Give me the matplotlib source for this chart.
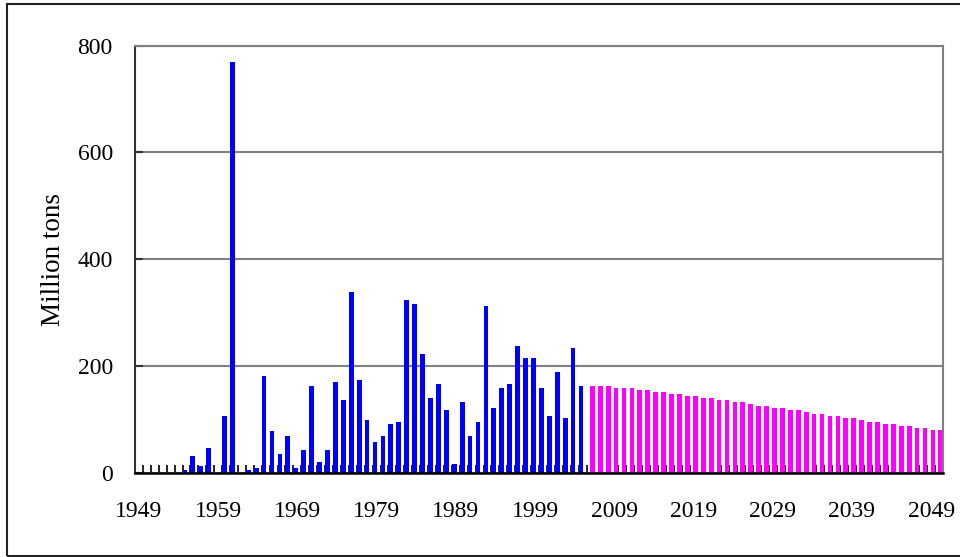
"""Production bars, 1949-2050: observed (blue) and projected (magenta)."""
import matplotlib.pyplot as plt
from matplotlib.patches import Rectangle
import numpy as np

plt.rcParams["font.family"] = ["Liberation Serif", "DejaVu Serif"]

ANOS = list(range(1949, 2051))

# observed, 1949-2005 (million tons)
OBSERVADO = [
    0, 0, 0, 0, 0, 0, 6, 32, 14, 47,
    0, 107, 770, 0, 6, 10, 182, 80, 36, 70,
    10, 44, 163, 21, 44, 171, 137, 339, 175, 100,
    59, 70, 92, 96, 324, 317, 223, 141, 167, 118,
    17, 133, 70, 96, 313, 122, 160, 167, 238, 216,
    216, 160, 107, 190, 103, 234, 163,
]

# projection, 2006-2050
PROJECAO = [
    163, 163, 163, 160, 160, 160, 156, 156, 152, 152,
    148, 148, 145, 145, 141, 141, 137, 137, 133, 133,
    130, 126, 126, 122, 122, 118, 118, 115, 111, 111,
    107, 107, 103, 103, 100, 96, 96, 92, 92, 88,
    88, 85, 85, 81, 81,
]

Y_TICKS = [0, 200, 400, 600, 800]

n_obs = len(OBSERVADO)
n_cat = len(ANOS)
x_obs = np.arange(n_obs)
x_proj = np.arange(n_obs, n_cat)

fig = plt.figure(figsize=(9.6, 5.57), dpi=100)
ax = fig.add_axes([0.1406, 0.1503, 0.9823 - 0.1406, 0.9183 - 0.1503])

ax.bar(x_obs + 0.30, OBSERVADO, width=0.6, color="#0000ff", zorder=2)
ax.bar(x_proj + 0.73, PROJECAO, width=0.6, color="#ff00ff", zorder=2)

ax.set_xlim(0, n_cat)
ax.set_ylim(0, 800)

# labels every ten years, centred in the category
idx_rot = np.arange(0, n_cat, 10)
ax.set_xticks(idx_rot + 0.5)
ax.set_xticklabels([str(ANOS[i]) for i in idx_rot], fontsize=17)
ax.tick_params(axis="x", which="major", length=0, pad=20)
ax.set_xticks(np.arange(0, n_cat + 1), minor=True)
ax.tick_params(axis="x", which="minor", direction="in", length=6,
               width=1.2, color="black")

ax.set_yticks(Y_TICKS)
ax.tick_params(axis="y", direction="in", length=6, width=1.5,
               color="#333333", labelsize=17, pad=16)
ax.set_ylabel("Million tons", fontsize=19.5, labelpad=8)

ax.grid(axis="y", color="#808080", linewidth=1.5, zorder=0)
ax.set_axisbelow(True)

for lado in ("top", "right"):
    ax.spines[lado].set_color("#808080")
    ax.spines[lado].set_linewidth(1.5)
ax.spines["left"].set_color("#333333")
ax.spines["left"].set_linewidth(1.5)
ax.spines["bottom"].set_color("black")
ax.spines["bottom"].set_linewidth(1.8)
ax.spines["bottom"].set_zorder(4)

# outer chart frame
fig.patches.append(Rectangle((7 / 960, 1 / 557), 1.0, 552 / 557,
                             transform=fig.transFigure, fill=False,
                             edgecolor="#222222", linewidth=1.5))

fig.savefig("out.png", dpi=100)
